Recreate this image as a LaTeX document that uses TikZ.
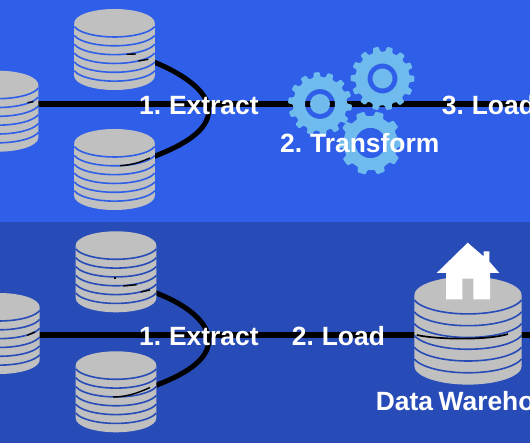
\documentclass[tikz,border=0pt]{standalone}
\usepackage{fontspec}
\setmainfont{Liberation Sans}[WordSpace=0.75]
\definecolor{upperblue}{HTML}{2F5FE8}
\definecolor{lowerblue}{HTML}{274CB8}
\definecolor{diskgrey}{HTML}{C0C0C0}
\definecolor{gearblue}{HTML}{6FBBEE}
\tikzset{
    flowmain/.style={line width=6.4pt},
    flowcurve/.style={line width=5pt},
    seam/.style={line width=1.4pt},
    steplabel/.style={anchor=base west, inner sep=0pt, text=white, font=\fontsize{26.4}{26.4}\selectfont\bfseries},
    pics/dbstack/.style={code={
        \fill[diskgrey] (-40.3,0) arc[start angle=180, end angle=360, x radius=40.3, y radius=-14]
            -- (40.3,53) arc[start angle=0, end angle=-180, x radius=40.3, y radius=-14] -- cycle;
        \fill[diskgrey] (0,0) ellipse[x radius=40.3, y radius=14];
        \foreach \h in {3.6,12.43,...,49} {
            \draw[dbline, line width=1.6pt] (-40.3,\h) arc[start angle=195, end angle=345, x radius=41.7, y radius=-14];
        }
    }},
    pics/gearwheel/.style={code={
        \fill[gearblue, even odd rule, rounded corners=1pt] (0:27)
            \foreach \a in {0,#1,...,350} {
                -- (\a+#1*0.12:27) -- (\a+#1*0.2:32) -- (\a+#1*0.62:32) -- (\a+#1*0.7:27) -- (\a+#1:27)
            } -- cycle
            (0,0) circle[radius=15] (0,0) circle[radius=10];
    }}
}
\begin{document}
\begin{tikzpicture}[x=1pt, y=-1pt]
    \useasboundingbox (0,0) rectangle (530,443);
    \clip (0,0) rectangle (530,443);
    \fill[upperblue] (0,0) rectangle (530,222.5);
    \fill[lowerblue] (0,222.5) rectangle (530,443);

    % ETL
    \coordinate (etlSrcLeft) at (30,104.3);
    \coordinate (etlEnd) at (530,104.3);
    \coordinate (etlSrcTop) at (150,60.5);
    \coordinate (etlSrcLow) at (150,158);
    \coordinate (etlJoin) at (208.7,110);
    \coordinate (gearLowHub) at (370.5,143);
    \draw[flowmain] (etlSrcLeft) -- (etlEnd);
    \draw[flowcurve] (etlSrcTop) .. controls (180,72) and (208,90) .. (etlJoin)
        .. controls (209,130) and (185,145) .. (etlSrcLow);
    \begin{scope}[dbline/.style={draw=upperblue}]
        \pic (etlDbLeft) at (-2,84.7) {dbstack};
        \pic (etlDbTop) at (114.5,23) {dbstack};
        \pic (etlDbLow) at (114.5,143) {dbstack};
    \end{scope}
    \draw[seam] (etlSrcLow) .. controls (145,160) and (135,165) .. (120,165.7);
    \draw[seam] (126.7,54.3) -- (136,54);
    \draw[seam] (138.3,61) -- (148.3,59.3);
    \draw[seam] (27.5,102.7) -- (33.5,101.7);
    \pic[rotate=4] (gearLeft) at (320,104) {gearwheel=25.72};
    \pic[rotate=10] (gearTop) at (382.5,78.5) {gearwheel=25.72};
    \pic[rotate=16] (gearLow) at (gearLowHub) {gearwheel=36};
    \fill[upperblue] (gearLowHub) circle[radius=15];
    \node[steplabel] (etlExtract) at (139,115) {1. Extract};
    \node[steplabel] (etlTransform) at (280,153) {2. Transform};
    \node[steplabel] (etlLoad) at (441.7,115) {3. Load};

    % ELT
    \coordinate (eltSrcLeft) at (30,335);
    \coordinate (eltEnd) at (530,335);
    \coordinate (eltSrcTop) at (152,291.5);
    \coordinate (eltSrcLow) at (150,387.5);
    \coordinate (eltJoin) at (208.7,340);
    \draw[flowmain] (eltSrcLeft) -- (eltEnd);
    \draw[flowcurve] (eltSrcTop) .. controls (182,302) and (208,320) .. (eltJoin)
        .. controls (209,360) and (185,375) .. (eltSrcLow);
    \begin{scope}[dbline/.style={draw=lowerblue}]
        \pic (eltDbLeft) at (-0.6,307) {dbstack};
        \pic (eltDbTop) at (116,245.3) {dbstack};
        \pic (eltDbLow) at (116,365.3) {dbstack};
        \pic[scale=1.333] (eltDbWarehouse) at (468,295.3) {dbstack};
    \end{scope}
    \draw[seam] (eltSrcLow) .. controls (140,392) and (128,397) .. (113,397);
    \draw[seam] (140.7,292) -- (150,290);
    \draw[seam] (123.3,286) -- (136.7,284.7);
    \draw[seam] (114,278) -- (116,278);
    \draw[seam] (27.3,335.3) -- (35,332);
    \draw[line width=1.7pt] (416.7,335) .. controls (440,340) and (490,340) .. (508,334);
    % house
    \fill[white] (467.7,242.7) -- (483.7,256.5) -- (483.7,251.3) -- (489.3,251.3) -- (489.3,261.5)
        -- (499.3,273) -- (490,273) -- (490,299.3) -- (473.3,299.3) -- (473.3,278.7) -- (462.3,278.7)
        -- (462.3,299.3) -- (446,299.3) -- (446,273) -- (436.7,273) -- cycle;
    \node[steplabel] (eltExtract) at (139,345.3) {1. Extract};
    \node[steplabel] (eltLoad) at (291.7,345.3) {2. Load};
    \node[steplabel] (eltWarehouse) at (375.7,410.3) {Data Warehouse};
\end{tikzpicture}
\end{document}
